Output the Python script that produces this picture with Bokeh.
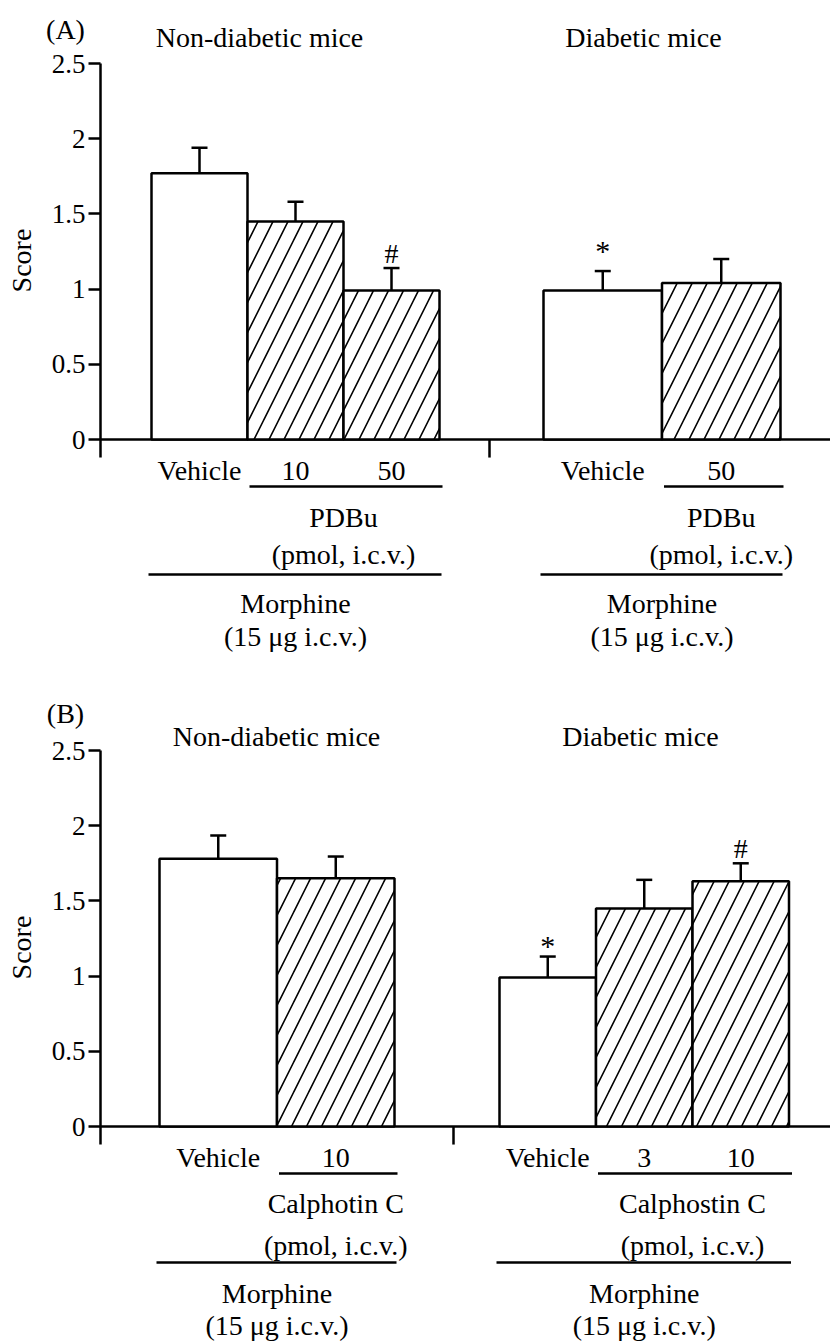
from bokeh.plotting import figure
from bokeh.models import Range1d, FixedTicker, LinearAxis
from bokeh.layouts import column
from bokeh.embed import file_html
from bokeh.resources import INLINE
from bokeh.core.properties import value

# ---------------- data ----------------
tick_values = [0.0, 0.5, 1.0, 1.5, 2.0, 2.5]
tick_labels = ["0", "0.5", "1", "1.5", "2", "2.5"]
y_label = "Score"

group_titles = ["Non-diabetic mice", "Diabetic mice"]
vehicle_dose = "Morphine"
vehicle_note = "(15 μg i.c.v.)"
dose_unit = "(pmol, i.c.v.)"

# Panel A: PDBu
a_letter = "(A)"
a_nd_doses = ["Vehicle", "10", "50"]
a_nd_means = [1.77, 1.45, 0.99]
a_nd_sem = [0.17, 0.13, 0.15]
a_nd_marks = ["", "", "#"]
a_nd_drug = "PDBu"
a_d_doses = ["Vehicle", "50"]
a_d_means = [0.99, 1.04]
a_d_sem = [0.13, 0.16]
a_d_marks = ["*", ""]
a_d_drug = "PDBu"

# Panel B: Calphostin C
b_letter = "(B)"
b_nd_doses = ["Vehicle", "10"]
b_nd_means = [1.78, 1.65]
b_nd_sem = [0.155, 0.145]
b_nd_marks = ["", ""]
b_nd_drug = "Calphotin C"
b_d_doses = ["Vehicle", "3", "10"]
b_d_means = [0.99, 1.45, 1.63]
b_d_sem = [0.14, 0.19, 0.12]
b_d_marks = ["*", "", "#"]
b_d_drug = "Calphostin C"

# ---------------- layout ----------------
PX = 150.4          # pixels per score unit
FONT = value("Liberation Serif")
FS = "28px"
LW = 2.5
AXIS_X = 100

panels = [
    dict(letter=a_letter, height=672, zero=439, sep=489,
         letter_xy=(65, 410), title_up=402, title_x=[259, 643], star_off=-21,
         group_left=[151, 543], bar_w=[96, 118.5],
         rows=dict(dose=31, short=47, drug=78, unit=115, long=135, morph=164, note=197),
         groups=[(a_nd_doses, a_nd_means, a_nd_sem, a_nd_marks, a_nd_drug),
                 (a_d_doses, a_d_means, a_d_sem, a_d_marks, a_d_drug)]),
    dict(letter=b_letter, height=671, zero=454, sep=453,
         letter_xy=(65, 413), title_up=390, title_x=[276, 640], star_off=-11,
         group_left=[159, 499], bar_w=[117.5, 96.5],
         rows=dict(dose=31, short=47, drug=77, unit=119, long=136, morph=167, note=199),
         groups=[(b_nd_doses, b_nd_means, b_nd_sem, b_nd_marks, b_nd_drug),
                 (b_d_doses, b_d_means, b_d_sem, b_d_marks, b_d_drug)]),
]


def make_panel(cfg):
    h = cfg["height"]
    z = cfg["zero"]
    p = figure(width=830, height=h,
               x_range=Range1d(0, 830),
               y_range=Range1d(-(h - z) / PX, z / PX),
               output_backend="svg", toolbar_location=None,
               x_axis_location=None, y_axis_location=None,
               min_border_left=0, min_border_right=0,
               min_border_top=0, min_border_bottom=0)
    p.outline_line_color = None
    p.grid.grid_line_color = None
    p.background_fill_color = "white"

    ax = LinearAxis(fixed_location=AXIS_X)
    ax.ticker = FixedTicker(ticks=tick_values)
    ax.major_label_overrides = {v: s for v, s in zip(tick_values, tick_labels)}
    ax.bounds = (-0.12, 2.5)
    ax.axis_line_width = LW
    ax.axis_line_color = "black"
    ax.major_tick_line_width = LW
    ax.major_tick_line_color = "black"
    ax.major_tick_out = 12
    ax.major_tick_in = 0
    ax.minor_tick_out = 0
    ax.minor_tick_in = 0
    ax.major_label_standoff = 3
    ax.major_label_text_font = "Liberation Serif"
    ax.major_label_text_font_size = "27px"
    ax.major_label_text_color = "black"
    ax.axis_label = y_label
    ax.axis_label_text_font = "Liberation Serif"
    ax.axis_label_text_font_size = FS
    ax.axis_label_text_font_style = "normal"
    ax.axis_label_text_color = "black"
    ax.axis_label_standoff = 12
    p.add_layout(ax, "left")

    # x axis baseline
    p.segment(x0=[AXIS_X], y0=[0], x1=[830], y1=[0], line_color="black", line_width=LW)
    # separator tick between the two groups
    p.segment(x0=[cfg["sep"]], y0=[0], x1=[cfg["sep"]], y1=[-0.12],
              line_color="black", line_width=LW)

    r = cfg["rows"]

    def row(k):
        return -r[k] / PX

    for gi, (doses, means, sems, marks, drug) in enumerate(cfg["groups"]):
        left0 = cfg["group_left"][gi]
        w = cfg["bar_w"][gi]
        n = len(means)
        lefts = [left0 + i * w for i in range(n)]
        rights = [l + w for l in lefts]
        centers = [l + w / 2 for l in lefts]
        # vehicle bar (white)
        p.quad(left=lefts[:1], right=rights[:1], bottom=[0], top=means[:1],
               fill_color="white", line_color="black", line_width=LW)
        # drug bars (hatched)
        p.quad(left=lefts[1:], right=rights[1:], bottom=[0] * (n - 1), top=means[1:],
               fill_color="white", line_color="black", line_width=LW,
               hatch_pattern="/", hatch_color="black", hatch_scale=30, hatch_weight=1.6)
        # error bars
        tops = [m + s for m, s in zip(means, sems)]
        p.segment(x0=centers, y0=means, x1=centers, y1=tops, line_color="black", line_width=LW)
        p.segment(x0=[c - 8 for c in centers], y0=tops, x1=[c + 8 for c in centers], y1=tops,
                  line_color="black", line_width=LW)
        # significance marks
        for c, t, mk in zip(centers, tops, marks):
            if not mk:
                continue
            if mk == "*":
                p.text(x=[c], y=[t], text=[mk], text_font=FONT, text_font_size="30px",
                       text_align="center", text_baseline="alphabetic",
                       y_offset=cfg["star_off"], text_color="black")
            else:
                p.text(x=[c], y=[t], text=[mk], text_font=FONT, text_font_size="28px",
                       text_align="center", text_baseline="alphabetic",
                       y_offset=-15, text_color="black")
        # dose labels
        p.text(x=centers, y=[row("dose")] * n, text=doses, text_font=FONT, text_font_size=FS,
               text_align="center", text_baseline="middle", text_color="black")
        # drug bracket
        p.segment(x0=[lefts[1] + 2], y0=[row("short")], x1=[rights[-1] + 3], y1=[row("short")],
                  line_color="black", line_width=LW)
        dc = (lefts[1] + rights[-1]) / 2
        p.text(x=[dc], y=[row("drug")], text=[drug], text_font=FONT, text_font_size=FS,
               text_align="center", text_baseline="middle", text_color="black")
        p.text(x=[dc], y=[row("unit")], text=[dose_unit], text_font=FONT, text_font_size=FS,
               text_align="center", text_baseline="middle", text_color="black")
        # morphine bracket
        p.segment(x0=[lefts[0] - 3], y0=[row("long")], x1=[rights[-1] + 2], y1=[row("long")],
                  line_color="black", line_width=LW)
        ac = (lefts[0] + rights[-1]) / 2
        p.text(x=[ac], y=[row("morph")], text=[vehicle_dose], text_font=FONT, text_font_size=FS,
               text_align="center", text_baseline="middle", text_color="black")
        p.text(x=[ac], y=[row("note")], text=[vehicle_note], text_font=FONT, text_font_size=FS,
               text_align="center", text_baseline="middle", text_color="black")
        # group title
        p.text(x=[cfg["title_x"][gi]], y=[cfg["title_up"] / PX], text=[group_titles[gi]],
               text_font=FONT, text_font_size=FS, text_align="center", text_baseline="middle",
               text_color="black")

    lx, ly = cfg["letter_xy"]
    p.text(x=[lx], y=[ly / PX], text=[cfg["letter"]], text_font=FONT, text_font_size=FS,
           text_align="center", text_baseline="middle", text_color="black")
    return p


pA = make_panel(panels[0])
pB = make_panel(panels[1])
layout = column(pA, pB, spacing=0)

open("out.html", "w").write(file_html(layout, INLINE))
